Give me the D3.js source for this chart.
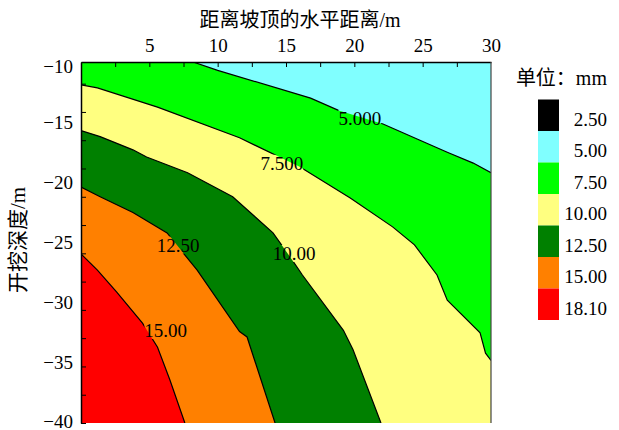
<!DOCTYPE html>
<html>
<head>
<meta charset="utf-8">
<script src="https://cdn.jsdelivr.net/npm/d3@7"></script>
<style>
  body { margin: 0; background: #fff; }
  svg { display: block; }
</style>
</head>
<body>
<svg id="chart" width="619" height="430"></svg>
<script>
// contour boundaries: [distance from crest (m), depth (m)]
const line5 = [[8.2, -10], [10.0, -10.7], [16.8, -13.0], [18.8, -14.0], [22.1, -15.15],
  [24.8, -16.5], [26.8, -17.5], [28.7, -18.4], [30, -19.2]];
const line75 = [[0, -11.9], [1.2, -12.15], [5.6, -13.75], [11.6, -16.3], [16.0, -18.7],
  [19.7, -21.3], [22.8, -23.7], [24.4, -25.2], [26.05, -27.7], [26.8, -29.8],
  [29.2, -32.5], [29.6, -34.2], [30, -34.8]];
const line10 = [[0, -15.7], [1.4, -16.2], [3.8, -17.3], [4.8, -17.9], [7.8, -19.2],
  [11.1, -21.2], [14.05, -24.2], [15.3, -26.2], [16.2, -27.7], [19.2, -32.3],
  [19.9, -33.9], [21.95, -40]];
const line125 = [[0, -20.4], [1.4, -21.2], [3.8, -22.5], [6.3, -24.2], [7.5, -25.9],
  [8.5, -27.3], [11.6, -32.4], [12.15, -32.85], [14.2, -40]];
const line15 = [[0, -25.95], [1.2, -27.3], [2.6, -29.1], [4.5, -31.7], [5.6, -33.7],
  [6.5, -36.4], [7.6, -40]];

const boundaries = [line5, line75, line10, line125, line15];
const bandColors = ["#80ffff", "#00ff00", "#ffff80", "#008000", "#ff8000", "#ff0000"];

// in-plot contour labels
const labelText = ["5.000", "7.500", "10.00", "12.50", "15.00"];
const labelPos = [[20.4, -14.65], [14.7, -18.4], [15.6, -25.9], [7.1, -25.2], [6.2, -32.3]];

// legend
const legendLabels = ["2.50", "5.00", "7.50", "10.00", "12.50", "15.00", "18.10"];
const legendColors = ["#000000", "#80ffff", "#00ff00", "#ffff80", "#008000", "#ff8000", "#ff0000"];

// axis ticks
const xTicks = [5, 10, 15, 20, 25, 30];
const xMinor = [2.5, 5, 7.5, 10, 12.5, 15, 17.5, 20, 22.5, 25, 27.5];
const yTicks = [-10, -15, -20, -25, -30, -35, -40];
const yMinor = [-11.8, -14.15, -16.5, -18.85, -21.2, -23.55, -25.9, -28.25, -30.6,
  -32.95, -35.3, -37.65, -40];

const SERIF = '"Liberation Serif", "Times New Roman", "Noto Sans CJK SC", serif';

const svg = d3.select("#chart");
const x = d3.scaleLinear().domain([0, 30]).range([81, 491]);
const y = d3.scaleLinear().domain([-40, -10]).range([423, 62]);
const [xMin, xMax] = x.domain();
const [yMin, yMax] = y.domain();

const defs = svg.append("defs");
defs.append("clipPath").attr("id", "plotClip")
  .append("rect")
  .attr("x", x(xMin)).attr("y", y(yMax))
  .attr("width", x(xMax) - x(xMin)).attr("height", y(yMin) - y(yMax));

const path = d3.line().x((d) => x(d[0])).y((d) => y(d[1]));

// close a boundary towards the bottom-left (higher values) corner
function closeBand(pts) {
  const res = pts.slice();
  const last = pts[pts.length - 1];
  const first = pts[0];
  if (last[0] >= xMax && last[1] > yMin) res.push([xMax, yMin]);
  res.push([xMin, yMin]);
  if (first[1] >= yMax && first[0] > xMin) res.push([xMin, yMax]);
  return res;
}

const plotG = svg.append("g").attr("clip-path", "url(#plotClip)");

plotG.append("rect")
  .attr("x", x(xMin)).attr("y", y(yMax))
  .attr("width", x(xMax) - x(xMin)).attr("height", y(yMin) - y(yMax))
  .attr("fill", bandColors[0]);

plotG.selectAll("path.band")
  .data(boundaries)
  .join("path")
  .attr("class", "band")
  .attr("d", (d) => path(closeBand(d)) + "Z")
  .attr("fill", (d, i) => bandColors[i + 1]);

// contour labels
const labelG = svg.append("g");
labelG.selectAll("text")
  .data(labelText)
  .join("text")
  .attr("x", (d, i) => x(labelPos[i][0]))
  .attr("y", (d, i) => y(labelPos[i][1]))
  .attr("dy", "0.35em")
  .attr("text-anchor", "middle")
  .attr("font-family", SERIF)
  .attr("font-size", 19)
  .text((d) => d);

// mask so lines break under labels
const mask = defs.append("mask").attr("id", "lblMask")
  .attr("maskUnits", "userSpaceOnUse")
  .attr("x", 0).attr("y", 0).attr("width", 619).attr("height", 430);
mask.append("rect").attr("width", 619).attr("height", 430).attr("fill", "#fff");
labelG.selectAll("text").each(function () {
  const b = this.getBBox();
  mask.append("rect")
    .attr("x", b.x).attr("y", b.y + 2)
    .attr("width", b.width).attr("height", b.height - 4)
    .attr("fill", "#000");
});

plotG.append("g").attr("mask", "url(#lblMask)")
  .selectAll("path.contour")
  .data(boundaries)
  .join("path")
  .attr("class", "contour")
  .attr("d", path)
  .attr("fill", "none")
  .attr("stroke", "#000")
  .attr("stroke-width", 1.2);

labelG.raise();

// axes
function styleAxis(g) {
  g.attr("font-family", SERIF).attr("font-size", 19);
  g.selectAll("text").attr("fill", "#000");
  g.selectAll("line").attr("stroke", "#000");
}

const topAxis = svg.append("g")
  .attr("transform", `translate(0,${y(yMax)})`)
  .call(d3.axisTop(x).tickValues(xTicks).tickSize(0).tickPadding(10))
  .call(styleAxis);
topAxis.select(".domain").attr("stroke", "#000").attr("stroke-width", 1.5);

svg.append("g")
  .attr("transform", `translate(0,${y(yMax)})`)
  .call(d3.axisTop(x).tickValues(xMinor).tickSize(-5).tickFormat(""))
  .call((g) => g.select(".domain").remove())
  .call(styleAxis);

const leftAxis = svg.append("g")
  .attr("transform", `translate(${x(xMin)},0)`)
  .call(d3.axisLeft(y).tickValues(yTicks).tickSize(0).tickPadding(8))
  .call(styleAxis);
leftAxis.select(".domain").attr("stroke", "#000").attr("stroke-width", 1.5);
// end labels sit slightly inside the frame, as in the original
leftAxis.selectAll(".tick text")
  .attr("dy", (d) => (d === yMax ? "0.55em" : d === yMin ? "0.22em" : "0.32em"));

svg.append("g")
  .attr("transform", `translate(${x(xMin)},0)`)
  .call(d3.axisLeft(y).tickValues(yMinor).tickSize(-5).tickFormat(""))
  .call((g) => g.select(".domain").remove())
  .call(styleAxis);

// right frame line
svg.append("line")
  .attr("x1", x(xMax)).attr("x2", x(xMax))
  .attr("y1", y(yMax)).attr("y2", y(yMin))
  .attr("stroke", "#444").attr("stroke-width", 1.2);

// axis titles
svg.append("text")
  .attr("x", 300).attr("y", 27)
  .attr("text-anchor", "middle")
  .attr("font-family", SERIF).attr("font-size", 20)
  .text("距离坡顶的水平距离/m");

svg.append("text")
  .attr("transform", "translate(25,240) rotate(-90)")
  .attr("text-anchor", "middle")
  .attr("font-family", SERIF).attr("font-size", 21)
  .text("开挖深度/m");

// legend
const legendG = svg.append("g");
legendG.append("text")
  .attr("x", 607).attr("y", 85)
  .attr("text-anchor", "end")
  .attr("font-family", SERIF).attr("font-size", 20)
  .text("单位：mm");

const boxTop = 99.5, boxH = 31.5;
const items = legendG.selectAll("g.item")
  .data(legendLabels)
  .join("g")
  .attr("class", "item")
  .attr("transform", (d, i) => `translate(0,${boxTop + i * boxH})`);

items.append("rect")
  .attr("x", 538).attr("y", 0)
  .attr("width", 21).attr("height", boxH)
  .attr("fill", (d, i) => legendColors[i]);

items.append("text")
  .attr("x", 607).attr("y", boxH / 2 + 4)
  .attr("dy", "0.35em")
  .attr("text-anchor", "end")
  .attr("font-family", SERIF).attr("font-size", 19)
  .text((d) => d);
</script>
</body>
</html>
